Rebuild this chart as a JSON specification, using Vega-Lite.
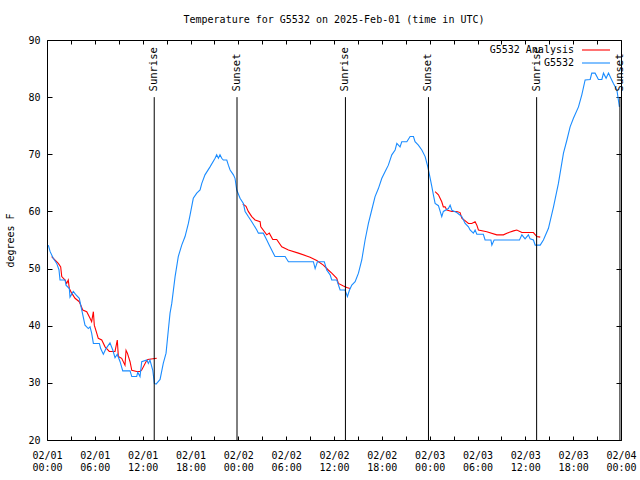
{
  "$schema": "https://vega.github.io/schema/vega-lite/v6.json",
  "width": 574,
  "height": 400,
  "autosize": {"type": "none"},
  "padding": {"left": 47, "top": 40, "right": 19, "bottom": 40},
  "background": "white",
  "title": {"text": "Temperature for G5532 on 2025-Feb-01 (time in UTC)", "font": "DejaVu Sans Mono", "fontSize": 10, "fontWeight": "normal", "color": "black", "anchor": "middle", "frame": "group", "offset": 10},
  "config": {
    "view": {"stroke": "black", "strokeWidth": 1},
    "axis": {"labelFont": "DejaVu Sans Mono", "labelFontSize": 10, "labelColor": "black", "titleFont": "DejaVu Sans Mono", "titleFontSize": 10, "titleFontWeight": "normal", "titleColor": "black", "grid": false, "domain": false, "tickColor": "black", "tickWidth": 1, "labelFlush": false, "labelOverlap": false, "labelBound": false}
  },
  "datasets": {
    "temps": [
      {"s":"G5532 Analysis","g":"a1","t":"2025-02-01T00:35:00Z","v":52.1},
      {"s":"G5532 Analysis","g":"a1","t":"2025-02-01T01:25:00Z","v":50.9},
      {"s":"G5532 Analysis","g":"a1","t":"2025-02-01T01:43:00Z","v":50.3},
      {"s":"G5532 Analysis","g":"a1","t":"2025-02-01T01:51:00Z","v":48.6},
      {"s":"G5532 Analysis","g":"a1","t":"2025-02-01T02:16:00Z","v":48},
      {"s":"G5532 Analysis","g":"a1","t":"2025-02-01T02:28:00Z","v":47.4},
      {"s":"G5532 Analysis","g":"a1","t":"2025-02-01T02:40:00Z","v":48},
      {"s":"G5532 Analysis","g":"a1","t":"2025-02-01T02:48:00Z","v":46.5},
      {"s":"G5532 Analysis","g":"a1","t":"2025-02-01T03:06:00Z","v":45.7},
      {"s":"G5532 Analysis","g":"a1","t":"2025-02-01T03:31:00Z","v":44.8},
      {"s":"G5532 Analysis","g":"a1","t":"2025-02-01T04:03:00Z","v":44.2},
      {"s":"G5532 Analysis","g":"a1","t":"2025-02-01T04:29:00Z","v":42.75},
      {"s":"G5532 Analysis","g":"a1","t":"2025-02-01T04:59:00Z","v":42.45},
      {"s":"G5532 Analysis","g":"a1","t":"2025-02-01T05:24:00Z","v":41.3},
      {"s":"G5532 Analysis","g":"a1","t":"2025-02-01T05:36:00Z","v":40.7},
      {"s":"G5532 Analysis","g":"a1","t":"2025-02-01T05:49:00Z","v":42.45},
      {"s":"G5532 Analysis","g":"a1","t":"2025-02-01T05:56:00Z","v":40.1},
      {"s":"G5532 Analysis","g":"a1","t":"2025-02-01T06:26:00Z","v":37.8},
      {"s":"G5532 Analysis","g":"a1","t":"2025-02-01T06:52:00Z","v":37.5},
      {"s":"G5532 Analysis","g":"a1","t":"2025-02-01T07:17:00Z","v":36.3},
      {"s":"G5532 Analysis","g":"a1","t":"2025-02-01T07:49:00Z","v":35.5},
      {"s":"G5532 Analysis","g":"a1","t":"2025-02-01T08:32:00Z","v":35.5},
      {"s":"G5532 Analysis","g":"a1","t":"2025-02-01T08:49:00Z","v":37.5},
      {"s":"G5532 Analysis","g":"a1","t":"2025-02-01T08:57:00Z","v":34.6},
      {"s":"G5532 Analysis","g":"a1","t":"2025-02-01T09:22:00Z","v":34.3},
      {"s":"G5532 Analysis","g":"a1","t":"2025-02-01T09:47:00Z","v":33.1},
      {"s":"G5532 Analysis","g":"a1","t":"2025-02-01T09:55:00Z","v":35.7},
      {"s":"G5532 Analysis","g":"a1","t":"2025-02-01T10:05:00Z","v":35.2},
      {"s":"G5532 Analysis","g":"a1","t":"2025-02-01T10:25:00Z","v":33.7},
      {"s":"G5532 Analysis","g":"a1","t":"2025-02-01T10:38:00Z","v":32.2},
      {"s":"G5532 Analysis","g":"a1","t":"2025-02-01T11:15:00Z","v":32},
      {"s":"G5532 Analysis","g":"a1","t":"2025-02-01T11:40:00Z","v":32},
      {"s":"G5532 Analysis","g":"a1","t":"2025-02-01T11:53:00Z","v":32.25},
      {"s":"G5532 Analysis","g":"a1","t":"2025-02-01T12:25:00Z","v":33.7},
      {"s":"G5532 Analysis","g":"a1","t":"2025-02-01T12:38:00Z","v":34.1},
      {"s":"G5532 Analysis","g":"a1","t":"2025-02-01T13:46:00Z","v":34.3},
      {"s":"G5532 Analysis","g":"a2","t":"2025-02-02T00:33:00Z","v":61.3},
      {"s":"G5532 Analysis","g":"a2","t":"2025-02-02T00:58:00Z","v":60.9},
      {"s":"G5532 Analysis","g":"a2","t":"2025-02-02T01:15:00Z","v":60},
      {"s":"G5532 Analysis","g":"a2","t":"2025-02-02T01:41:00Z","v":59.1},
      {"s":"G5532 Analysis","g":"a2","t":"2025-02-02T02:06:00Z","v":58.5},
      {"s":"G5532 Analysis","g":"a2","t":"2025-02-02T02:44:00Z","v":58.2},
      {"s":"G5532 Analysis","g":"a2","t":"2025-02-02T02:49:00Z","v":57.3},
      {"s":"G5532 Analysis","g":"a2","t":"2025-02-02T03:34:00Z","v":55.9},
      {"s":"G5532 Analysis","g":"a2","t":"2025-02-02T03:53:00Z","v":56.2},
      {"s":"G5532 Analysis","g":"a2","t":"2025-02-02T04:19:00Z","v":55.1},
      {"s":"G5532 Analysis","g":"a2","t":"2025-02-02T04:49:00Z","v":55.1},
      {"s":"G5532 Analysis","g":"a2","t":"2025-02-02T05:27:00Z","v":53.8},
      {"s":"G5532 Analysis","g":"a2","t":"2025-02-02T06:17:00Z","v":53.25},
      {"s":"G5532 Analysis","g":"a2","t":"2025-02-02T07:32:00Z","v":52.7},
      {"s":"G5532 Analysis","g":"a2","t":"2025-02-02T09:00:00Z","v":52},
      {"s":"G5532 Analysis","g":"a2","t":"2025-02-02T09:50:00Z","v":51.4},
      {"s":"G5532 Analysis","g":"a2","t":"2025-02-02T10:40:00Z","v":50.6},
      {"s":"G5532 Analysis","g":"a2","t":"2025-02-02T11:17:00Z","v":49.75},
      {"s":"G5532 Analysis","g":"a2","t":"2025-02-02T11:43:00Z","v":49.2},
      {"s":"G5532 Analysis","g":"a2","t":"2025-02-02T12:21:00Z","v":48.3},
      {"s":"G5532 Analysis","g":"a2","t":"2025-02-02T12:33:00Z","v":47.4},
      {"s":"G5532 Analysis","g":"a2","t":"2025-02-02T13:11:00Z","v":46.95},
      {"s":"G5532 Analysis","g":"a2","t":"2025-02-02T13:36:00Z","v":46.7},
      {"s":"G5532 Analysis","g":"a2","t":"2025-02-02T14:01:00Z","v":46.5},
      {"s":"G5532 Analysis","g":"a3","t":"2025-02-03T00:41:00Z","v":63.45},
      {"s":"G5532 Analysis","g":"a3","t":"2025-02-03T01:06:00Z","v":62.9},
      {"s":"G5532 Analysis","g":"a3","t":"2025-02-03T01:31:00Z","v":61.7},
      {"s":"G5532 Analysis","g":"a3","t":"2025-02-03T01:43:00Z","v":60.8},
      {"s":"G5532 Analysis","g":"a3","t":"2025-02-03T01:56:00Z","v":60.8},
      {"s":"G5532 Analysis","g":"a3","t":"2025-02-03T02:09:00Z","v":60.25},
      {"s":"G5532 Analysis","g":"a3","t":"2025-02-03T02:47:00Z","v":60},
      {"s":"G5532 Analysis","g":"a3","t":"2025-02-03T03:24:00Z","v":60},
      {"s":"G5532 Analysis","g":"a3","t":"2025-02-03T03:49:00Z","v":59.8},
      {"s":"G5532 Analysis","g":"a3","t":"2025-02-03T04:02:00Z","v":58.8},
      {"s":"G5532 Analysis","g":"a3","t":"2025-02-03T04:14:00Z","v":58.6},
      {"s":"G5532 Analysis","g":"a3","t":"2025-02-03T04:52:00Z","v":57.9},
      {"s":"G5532 Analysis","g":"a3","t":"2025-02-03T05:17:00Z","v":57.9},
      {"s":"G5532 Analysis","g":"a3","t":"2025-02-03T05:42:00Z","v":58.2},
      {"s":"G5532 Analysis","g":"a3","t":"2025-02-03T05:55:00Z","v":57.6},
      {"s":"G5532 Analysis","g":"a3","t":"2025-02-03T06:07:00Z","v":56.75},
      {"s":"G5532 Analysis","g":"a3","t":"2025-02-03T07:10:00Z","v":56.45},
      {"s":"G5532 Analysis","g":"a3","t":"2025-02-03T08:25:00Z","v":55.9},
      {"s":"G5532 Analysis","g":"a3","t":"2025-02-03T09:15:00Z","v":55.9},
      {"s":"G5532 Analysis","g":"a3","t":"2025-02-03T09:41:00Z","v":56.2},
      {"s":"G5532 Analysis","g":"a3","t":"2025-02-03T10:31:00Z","v":56.6},
      {"s":"G5532 Analysis","g":"a3","t":"2025-02-03T10:56:00Z","v":56.75},
      {"s":"G5532 Analysis","g":"a3","t":"2025-02-03T11:34:00Z","v":56.3},
      {"s":"G5532 Analysis","g":"a3","t":"2025-02-03T13:01:00Z","v":56.3},
      {"s":"G5532 Analysis","g":"a3","t":"2025-02-03T13:26:00Z","v":55.6},
      {"s":"G5532 Analysis","g":"a3","t":"2025-02-03T13:52:00Z","v":55.5},
      {"s":"G5532","g":"b","t":"2025-02-01T00:10:00Z","v":54.1},
      {"s":"G5532","g":"b","t":"2025-02-01T00:23:00Z","v":53},
      {"s":"G5532","g":"b","t":"2025-02-01T00:47:00Z","v":51.8},
      {"s":"G5532","g":"b","t":"2025-02-01T01:13:00Z","v":50.9},
      {"s":"G5532","g":"b","t":"2025-02-01T01:30:00Z","v":49.8},
      {"s":"G5532","g":"b","t":"2025-02-01T01:38:00Z","v":48},
      {"s":"G5532","g":"b","t":"2025-02-01T02:16:00Z","v":48},
      {"s":"G5532","g":"b","t":"2025-02-01T02:23:00Z","v":47.1},
      {"s":"G5532","g":"b","t":"2025-02-01T02:48:00Z","v":46.5},
      {"s":"G5532","g":"b","t":"2025-02-01T02:53:00Z","v":45},
      {"s":"G5532","g":"b","t":"2025-02-01T03:18:00Z","v":46},
      {"s":"G5532","g":"b","t":"2025-02-01T03:35:00Z","v":45.5},
      {"s":"G5532","g":"b","t":"2025-02-01T04:03:00Z","v":44.8},
      {"s":"G5532","g":"b","t":"2025-02-01T04:21:00Z","v":42.8},
      {"s":"G5532","g":"b","t":"2025-02-01T04:33:00Z","v":41.5},
      {"s":"G5532","g":"b","t":"2025-02-01T04:46:00Z","v":40.1},
      {"s":"G5532","g":"b","t":"2025-02-01T05:11:00Z","v":39.5},
      {"s":"G5532","g":"b","t":"2025-02-01T05:24:00Z","v":39.8},
      {"s":"G5532","g":"b","t":"2025-02-01T05:36:00Z","v":38.7},
      {"s":"G5532","g":"b","t":"2025-02-01T05:49:00Z","v":36.9},
      {"s":"G5532","g":"b","t":"2025-02-01T06:34:00Z","v":36.9},
      {"s":"G5532","g":"b","t":"2025-02-01T06:44:00Z","v":36},
      {"s":"G5532","g":"b","t":"2025-02-01T07:04:00Z","v":35},
      {"s":"G5532","g":"b","t":"2025-02-01T07:24:00Z","v":36},
      {"s":"G5532","g":"b","t":"2025-02-01T07:54:00Z","v":37},
      {"s":"G5532","g":"b","t":"2025-02-01T08:15:00Z","v":35.75},
      {"s":"G5532","g":"b","t":"2025-02-01T08:32:00Z","v":34.4},
      {"s":"G5532","g":"b","t":"2025-02-01T08:49:00Z","v":35},
      {"s":"G5532","g":"b","t":"2025-02-01T09:10:00Z","v":33.7},
      {"s":"G5532","g":"b","t":"2025-02-01T09:30:00Z","v":32.1},
      {"s":"G5532","g":"b","t":"2025-02-01T10:25:00Z","v":32.1},
      {"s":"G5532","g":"b","t":"2025-02-01T10:38:00Z","v":31.1},
      {"s":"G5532","g":"b","t":"2025-02-01T11:15:00Z","v":31.1},
      {"s":"G5532","g":"b","t":"2025-02-01T11:23:00Z","v":31.85},
      {"s":"G5532","g":"b","t":"2025-02-01T11:40:00Z","v":31.1},
      {"s":"G5532","g":"b","t":"2025-02-01T11:53:00Z","v":33.7},
      {"s":"G5532","g":"b","t":"2025-02-01T12:31:00Z","v":34},
      {"s":"G5532","g":"b","t":"2025-02-01T12:43:00Z","v":33.4},
      {"s":"G5532","g":"b","t":"2025-02-01T12:55:00Z","v":34},
      {"s":"G5532","g":"b","t":"2025-02-01T13:16:00Z","v":32.2},
      {"s":"G5532","g":"b","t":"2025-02-01T13:28:00Z","v":29.9},
      {"s":"G5532","g":"b","t":"2025-02-01T13:41:00Z","v":29.8},
      {"s":"G5532","g":"b","t":"2025-02-01T14:11:00Z","v":30.6},
      {"s":"G5532","g":"b","t":"2025-02-01T14:35:00Z","v":33.4},
      {"s":"G5532","g":"b","t":"2025-02-01T14:56:00Z","v":35.2},
      {"s":"G5532","g":"b","t":"2025-02-01T15:13:00Z","v":39.2},
      {"s":"G5532","g":"b","t":"2025-02-01T15:26:00Z","v":42.2},
      {"s":"G5532","g":"b","t":"2025-02-01T15:39:00Z","v":43.9},
      {"s":"G5532","g":"b","t":"2025-02-01T16:04:00Z","v":48.6},
      {"s":"G5532","g":"b","t":"2025-02-01T16:28:00Z","v":52.1},
      {"s":"G5532","g":"b","t":"2025-02-01T16:54:00Z","v":54.1},
      {"s":"G5532","g":"b","t":"2025-02-01T17:19:00Z","v":55.6},
      {"s":"G5532","g":"b","t":"2025-02-01T17:44:00Z","v":57.9},
      {"s":"G5532","g":"b","t":"2025-02-01T17:57:00Z","v":59.4},
      {"s":"G5532","g":"b","t":"2025-02-01T18:21:00Z","v":62.3},
      {"s":"G5532","g":"b","t":"2025-02-01T18:47:00Z","v":63.2},
      {"s":"G5532","g":"b","t":"2025-02-01T19:12:00Z","v":63.75},
      {"s":"G5532","g":"b","t":"2025-02-01T19:25:00Z","v":64.9},
      {"s":"G5532","g":"b","t":"2025-02-01T19:49:00Z","v":66.4},
      {"s":"G5532","g":"b","t":"2025-02-01T20:27:00Z","v":67.8},
      {"s":"G5532","g":"b","t":"2025-02-01T21:05:00Z","v":69.3},
      {"s":"G5532","g":"b","t":"2025-02-01T21:17:00Z","v":69.9},
      {"s":"G5532","g":"b","t":"2025-02-01T21:30:00Z","v":69.3},
      {"s":"G5532","g":"b","t":"2025-02-01T21:42:00Z","v":69.9},
      {"s":"G5532","g":"b","t":"2025-02-01T21:55:00Z","v":69.3},
      {"s":"G5532","g":"b","t":"2025-02-01T22:07:00Z","v":69},
      {"s":"G5532","g":"b","t":"2025-02-01T22:33:00Z","v":69},
      {"s":"G5532","g":"b","t":"2025-02-01T22:45:00Z","v":68.1},
      {"s":"G5532","g":"b","t":"2025-02-01T22:58:00Z","v":67.25},
      {"s":"G5532","g":"b","t":"2025-02-01T23:23:00Z","v":66.4},
      {"s":"G5532","g":"b","t":"2025-02-01T23:35:00Z","v":65.8},
      {"s":"G5532","g":"b","t":"2025-02-01T23:48:00Z","v":63.75},
      {"s":"G5532","g":"b","t":"2025-02-02T00:13:00Z","v":62.3},
      {"s":"G5532","g":"b","t":"2025-02-02T00:38:00Z","v":61.4},
      {"s":"G5532","g":"b","t":"2025-02-02T00:51:00Z","v":60},
      {"s":"G5532","g":"b","t":"2025-02-02T01:15:00Z","v":59.1},
      {"s":"G5532","g":"b","t":"2025-02-02T01:41:00Z","v":58.2},
      {"s":"G5532","g":"b","t":"2025-02-02T02:19:00Z","v":56.75},
      {"s":"G5532","g":"b","t":"2025-02-02T02:31:00Z","v":56.2},
      {"s":"G5532","g":"b","t":"2025-02-02T03:08:00Z","v":56.2},
      {"s":"G5532","g":"b","t":"2025-02-02T03:34:00Z","v":55},
      {"s":"G5532","g":"b","t":"2025-02-02T03:53:00Z","v":54.1},
      {"s":"G5532","g":"b","t":"2025-02-02T04:11:00Z","v":53.25},
      {"s":"G5532","g":"b","t":"2025-02-02T04:36:00Z","v":52.1},
      {"s":"G5532","g":"b","t":"2025-02-02T05:52:00Z","v":52.1},
      {"s":"G5532","g":"b","t":"2025-02-02T06:17:00Z","v":51.2},
      {"s":"G5532","g":"b","t":"2025-02-02T09:25:00Z","v":51.2},
      {"s":"G5532","g":"b","t":"2025-02-02T09:38:00Z","v":50},
      {"s":"G5532","g":"b","t":"2025-02-02T09:55:00Z","v":51.2},
      {"s":"G5532","g":"b","t":"2025-02-02T10:47:00Z","v":51.2},
      {"s":"G5532","g":"b","t":"2025-02-02T11:05:00Z","v":49.75},
      {"s":"G5532","g":"b","t":"2025-02-02T11:31:00Z","v":48.9},
      {"s":"G5532","g":"b","t":"2025-02-02T11:43:00Z","v":48},
      {"s":"G5532","g":"b","t":"2025-02-02T12:21:00Z","v":48},
      {"s":"G5532","g":"b","t":"2025-02-02T12:46:00Z","v":46.25},
      {"s":"G5532","g":"b","t":"2025-02-02T13:23:00Z","v":46.25},
      {"s":"G5532","g":"b","t":"2025-02-02T13:41:00Z","v":45.1},
      {"s":"G5532","g":"b","t":"2025-02-02T13:56:00Z","v":46.2},
      {"s":"G5532","g":"b","t":"2025-02-02T14:14:00Z","v":47.1},
      {"s":"G5532","g":"b","t":"2025-02-02T14:39:00Z","v":47.7},
      {"s":"G5532","g":"b","t":"2025-02-02T15:04:00Z","v":49.2},
      {"s":"G5532","g":"b","t":"2025-02-02T15:29:00Z","v":51.5},
      {"s":"G5532","g":"b","t":"2025-02-02T15:54:00Z","v":55},
      {"s":"G5532","g":"b","t":"2025-02-02T16:19:00Z","v":57.9},
      {"s":"G5532","g":"b","t":"2025-02-02T16:44:00Z","v":60.25},
      {"s":"G5532","g":"b","t":"2025-02-02T17:09:00Z","v":62.6},
      {"s":"G5532","g":"b","t":"2025-02-02T17:34:00Z","v":64},
      {"s":"G5532","g":"b","t":"2025-02-02T18:00:00Z","v":65.8},
      {"s":"G5532","g":"b","t":"2025-02-02T18:25:00Z","v":67},
      {"s":"G5532","g":"b","t":"2025-02-02T18:49:00Z","v":68.1},
      {"s":"G5532","g":"b","t":"2025-02-02T19:15:00Z","v":69.9},
      {"s":"G5532","g":"b","t":"2025-02-02T19:40:00Z","v":70.75},
      {"s":"G5532","g":"b","t":"2025-02-02T19:53:00Z","v":71.9},
      {"s":"G5532","g":"b","t":"2025-02-02T20:17:00Z","v":71.3},
      {"s":"G5532","g":"b","t":"2025-02-02T20:30:00Z","v":72.2},
      {"s":"G5532","g":"b","t":"2025-02-02T21:08:00Z","v":72.2},
      {"s":"G5532","g":"b","t":"2025-02-02T21:33:00Z","v":73.1},
      {"s":"G5532","g":"b","t":"2025-02-02T21:58:00Z","v":73.1},
      {"s":"G5532","g":"b","t":"2025-02-02T22:10:00Z","v":72.2},
      {"s":"G5532","g":"b","t":"2025-02-02T22:35:00Z","v":71.6},
      {"s":"G5532","g":"b","t":"2025-02-02T23:01:00Z","v":70.75},
      {"s":"G5532","g":"b","t":"2025-02-02T23:26:00Z","v":69.6},
      {"s":"G5532","g":"b","t":"2025-02-02T23:46:00Z","v":67.8},
      {"s":"G5532","g":"b","t":"2025-02-03T00:04:00Z","v":65.8},
      {"s":"G5532","g":"b","t":"2025-02-03T00:16:00Z","v":64.4},
      {"s":"G5532","g":"b","t":"2025-02-03T00:28:00Z","v":62.9},
      {"s":"G5532","g":"b","t":"2025-02-03T00:41:00Z","v":61.4},
      {"s":"G5532","g":"b","t":"2025-02-03T01:06:00Z","v":61},
      {"s":"G5532","g":"b","t":"2025-02-03T01:31:00Z","v":59.1},
      {"s":"G5532","g":"b","t":"2025-02-03T01:43:00Z","v":60},
      {"s":"G5532","g":"b","t":"2025-02-03T02:21:00Z","v":60.5},
      {"s":"G5532","g":"b","t":"2025-02-03T02:34:00Z","v":61.1},
      {"s":"G5532","g":"b","t":"2025-02-03T02:47:00Z","v":60.2},
      {"s":"G5532","g":"b","t":"2025-02-03T03:24:00Z","v":59.8},
      {"s":"G5532","g":"b","t":"2025-02-03T04:02:00Z","v":59.1},
      {"s":"G5532","g":"b","t":"2025-02-03T04:27:00Z","v":57.9},
      {"s":"G5532","g":"b","t":"2025-02-03T04:52:00Z","v":57.3},
      {"s":"G5532","g":"b","t":"2025-02-03T05:04:00Z","v":56.75},
      {"s":"G5532","g":"b","t":"2025-02-03T05:29:00Z","v":56.2},
      {"s":"G5532","g":"b","t":"2025-02-03T05:42:00Z","v":56.75},
      {"s":"G5532","g":"b","t":"2025-02-03T05:55:00Z","v":56},
      {"s":"G5532","g":"b","t":"2025-02-03T06:44:00Z","v":56},
      {"s":"G5532","g":"b","t":"2025-02-03T06:57:00Z","v":55},
      {"s":"G5532","g":"b","t":"2025-02-03T07:41:00Z","v":55},
      {"s":"G5532","g":"b","t":"2025-02-03T07:48:00Z","v":54.1},
      {"s":"G5532","g":"b","t":"2025-02-03T08:05:00Z","v":55},
      {"s":"G5532","g":"b","t":"2025-02-03T11:16:00Z","v":55},
      {"s":"G5532","g":"b","t":"2025-02-03T11:34:00Z","v":55.9},
      {"s":"G5532","g":"b","t":"2025-02-03T11:58:00Z","v":55.2},
      {"s":"G5532","g":"b","t":"2025-02-03T12:23:00Z","v":55.9},
      {"s":"G5532","g":"b","t":"2025-02-03T12:36:00Z","v":55.2},
      {"s":"G5532","g":"b","t":"2025-02-03T13:01:00Z","v":55},
      {"s":"G5532","g":"b","t":"2025-02-03T13:14:00Z","v":54.1},
      {"s":"G5532","g":"b","t":"2025-02-03T13:52:00Z","v":54.1},
      {"s":"G5532","g":"b","t":"2025-02-03T14:16:00Z","v":55},
      {"s":"G5532","g":"b","t":"2025-02-03T14:54:00Z","v":57.05},
      {"s":"G5532","g":"b","t":"2025-02-03T15:32:00Z","v":60.8},
      {"s":"G5532","g":"b","t":"2025-02-03T16:09:00Z","v":64.9},
      {"s":"G5532","g":"b","t":"2025-02-03T16:47:00Z","v":70.2},
      {"s":"G5532","g":"b","t":"2025-02-03T17:13:00Z","v":72.5},
      {"s":"G5532","g":"b","t":"2025-02-03T17:37:00Z","v":74.8},
      {"s":"G5532","g":"b","t":"2025-02-03T18:02:00Z","v":76.3},
      {"s":"G5532","g":"b","t":"2025-02-03T18:40:00Z","v":78.3},
      {"s":"G5532","g":"b","t":"2025-02-03T19:05:00Z","v":80.4},
      {"s":"G5532","g":"b","t":"2025-02-03T19:30:00Z","v":83},
      {"s":"G5532","g":"b","t":"2025-02-03T20:08:00Z","v":83.1},
      {"s":"G5532","g":"b","t":"2025-02-03T20:20:00Z","v":84.2},
      {"s":"G5532","g":"b","t":"2025-02-03T20:45:00Z","v":84.2},
      {"s":"G5532","g":"b","t":"2025-02-03T21:10:00Z","v":83.1},
      {"s":"G5532","g":"b","t":"2025-02-03T21:36:00Z","v":83.1},
      {"s":"G5532","g":"b","t":"2025-02-03T21:48:00Z","v":84.2},
      {"s":"G5532","g":"b","t":"2025-02-03T22:08:00Z","v":83.3},
      {"s":"G5532","g":"b","t":"2025-02-03T22:26:00Z","v":84.2},
      {"s":"G5532","g":"b","t":"2025-02-03T22:44:00Z","v":83.3},
      {"s":"G5532","g":"b","t":"2025-02-03T23:03:00Z","v":82.4},
      {"s":"G5532","g":"b","t":"2025-02-03T23:29:00Z","v":81.25},
      {"s":"G5532","g":"b","t":"2025-02-03T23:48:00Z","v":78.3}
    ],
    "sun": [
      {"e":"Sunrise","t":"2025-02-01T13:27:00Z"},
      {"e":"Sunset","t":"2025-02-01T23:50:00Z"},
      {"e":"Sunrise","t":"2025-02-02T13:26:00Z"},
      {"e":"Sunset","t":"2025-02-02T23:51:00Z"},
      {"e":"Sunrise","t":"2025-02-03T13:25:00Z"},
      {"e":"Sunset","t":"2025-02-03T23:52:00Z"}
    ]
  },
  "resolve": {"axis": {"x": "independent", "y": "independent"}},
  "layer": [
    {
      "data": {"name": "temps"},
      "transform": [{"filter": "datum.s === 'G5532 Analysis'"}],
      "mark": {"type": "line", "strokeWidth": 1.1},
      "encoding": {
        "x": {"field": "t", "type": "temporal",
              "scale": {"type": "utc", "domain": [1738368000000, 1738627200000], "nice": false},
              "axis": {"orient": "bottom", "title": null, "ticks": false, "labelPadding": 10, "labelLineHeight": 12,
                       "values": [1738368000000, 1738389600000, 1738411200000, 1738432800000, 1738454400000, 1738476000000, 1738497600000, 1738519200000, 1738540800000, 1738562400000, 1738584000000, 1738605600000, 1738627200000],
                       "labelExpr": "[utcFormat(datum.value, '%m/%d'), utcFormat(datum.value, '%H:%M')]"}},
        "y": {"field": "v", "type": "quantitative",
              "scale": {"domain": [20, 90], "nice": false, "zero": false},
              "axis": {"orient": "left", "title": "degrees F", "ticks": false, "labelPadding": 7, "titlePadding": 12, "values": [20, 30, 40, 50, 60, 70, 80, 90]}},
        "color": {"field": "s", "type": "nominal",
                  "scale": {"domain": ["G5532 Analysis", "G5532"], "range": ["#ff0000", "#1a8cff"]},
                  "legend": {"orient": "none", "legendX": 544, "legendY": 5, "title": null, "symbolType": "M-4.667,0H4.667", "symbolSize": 36, "symbolStrokeWidth": 1.1, "labelAlign": "right", "labelOffset": -27, "labelFont": "DejaVu Sans Mono", "labelFontSize": 10, "labelColor": "black", "rowPadding": 3, "padding": 0, "labelLimit": 300}},
        "detail": {"field": "g", "type": "nominal"}
      }
    },
    {
      "data": {"name": "temps"},
      "transform": [{"filter": "datum.s === 'G5532'"}],
      "mark": {"type": "line", "strokeWidth": 1.1},
      "encoding": {
        "x": {"field": "t", "type": "temporal",
              "axis": {"orient": "bottom", "title": null, "labels": false, "tickSize": 4, "offset": -4,
                       "values": [1738368000000, 1738378800000, 1738389600000, 1738400400000, 1738411200000, 1738422000000, 1738432800000, 1738443600000, 1738454400000, 1738465200000, 1738476000000, 1738486800000, 1738497600000, 1738508400000, 1738519200000, 1738530000000, 1738540800000, 1738551600000, 1738562400000, 1738573200000, 1738584000000, 1738594800000, 1738605600000, 1738616400000, 1738627200000]}},
        "y": {"field": "v", "type": "quantitative",
              "axis": {"orient": "left", "title": null, "labels": false, "tickSize": 5, "offset": -5, "values": [20, 30, 40, 50, 60, 70, 80, 90]}},
        "color": {"field": "s", "type": "nominal"},
        "detail": {"field": "g", "type": "nominal"}
      }
    },
    {
      "data": {"name": "sun"},
      "mark": {"type": "rule", "color": "black", "strokeWidth": 1},
      "encoding": {
        "x": {"field": "t", "type": "temporal",
              "axis": {"orient": "top", "title": null, "labels": false, "tickSize": 4, "offset": -4,
                       "values": [1738368000000, 1738378800000, 1738389600000, 1738400400000, 1738411200000, 1738422000000, 1738432800000, 1738443600000, 1738454400000, 1738465200000, 1738476000000, 1738486800000, 1738497600000, 1738508400000, 1738519200000, 1738530000000, 1738540800000, 1738551600000, 1738562400000, 1738573200000, 1738584000000, 1738594800000, 1738605600000, 1738616400000, 1738627200000]}},
        "y": {"datum": 20, "type": "quantitative",
              "axis": {"orient": "right", "title": null, "labels": false, "tickSize": 5, "offset": -5, "values": [20, 30, 40, 50, 60, 70, 80, 90]}},
        "y2": {"datum": 80}
      }
    },
    {
      "data": {"name": "sun"},
      "mark": {"type": "text", "angle": 270, "align": "left", "baseline": "middle", "font": "DejaVu Sans Mono", "fontSize": 10.5, "color": "black"},
      "encoding": {
        "x": {"field": "t", "type": "temporal", "axis": null},
        "y": {"datum": 81, "type": "quantitative", "axis": null},
        "text": {"field": "e"}
      }
    }
  ]
}
